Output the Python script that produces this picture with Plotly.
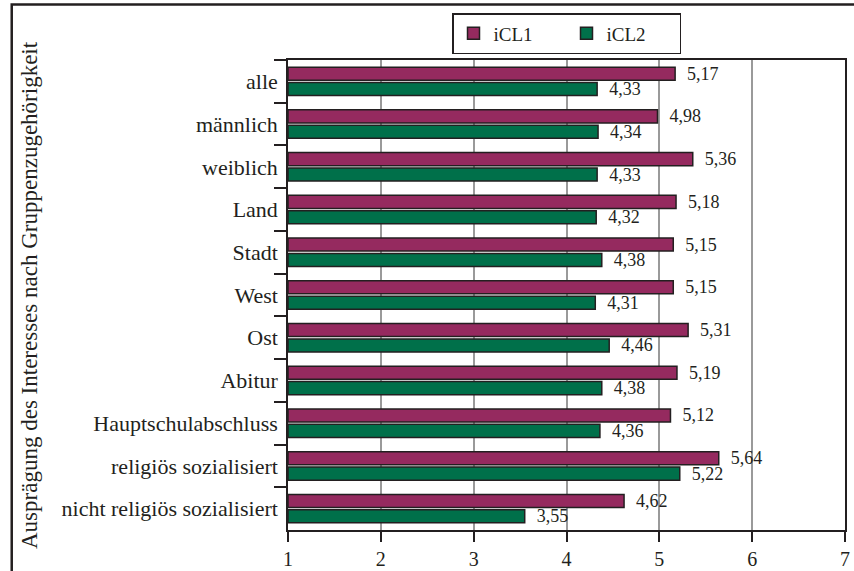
import plotly.graph_objects as go

gruppen = ["alle", "männlich", "weiblich", "Land", "Stadt", "West", "Ost", "Abitur",
           "Hauptschulabschluss", "religiös sozialisiert", "nicht religiös sozialisiert"]
icl1 = [5.17, 4.98, 5.36, 5.18, 5.15, 5.15, 5.31, 5.19, 5.12, 5.64, 4.62]
icl2 = [4.33, 4.34, 4.33, 4.32, 4.38, 4.31, 4.46, 4.38, 4.36, 5.22, 3.55]
x_ticks = [1, 2, 3, 4, 5, 6, 7]

serif = "Liberation Serif, DejaVu Serif, serif"
rand = "#231F20"

fig = go.Figure()
for name, vals, col in [("iCL1", icl1, "#952A5F"), ("iCL2", icl2, "#00704A")]:
    fig.add_trace(go.Bar(
        y=gruppen, x=[v - 1 for v in vals], base=1, orientation="h", name=name,
        marker=dict(color=col, line=dict(color=rand, width=1.5)),
        text=["  " + f"{v:.2f}".replace(".", ",") for v in vals],
        textposition="outside", cliponaxis=False, constraintext="none",
        textfont=dict(family=serif, size=18, color="#231F20"),
    ))

fig.update_layout(
    width=854, height=571,
    margin=dict(l=288, r=9, t=60, b=41),
    paper_bgcolor="white", plot_bgcolor="white",
    barmode="group", bargap=0.28, bargroupgap=0.15,
    font=dict(family=serif, size=21, color="#231F20"),
    legend=dict(orientation="h", x=0.5, xanchor="center", y=1.1, yanchor="top",
                bordercolor=rand, borderwidth=1.5, font=dict(size=19),
                entrywidth=68, entrywidthmode="pixels"),
    showlegend=True,
    xaxis=dict(range=[1, 7], tickvals=x_ticks, showgrid=True, gridcolor="#9A9A9A",
               gridwidth=1.5, showline=True, linecolor=rand, linewidth=1.5, mirror=True,
               ticks="outside", ticklen=10, tickwidth=1.5, tickcolor=rand,
               zeroline=False, tickfont=dict(size=20), automargin=False),
    yaxis=dict(autorange="reversed", showline=True, linecolor=rand, linewidth=1.5,
               mirror=True, ticks="outside", tickson="boundaries", ticklen=12,
               tickwidth=1.5, tickcolor=rand, tickfont=dict(size=22),
               ticklabelstandoff=4, automargin=False),
    shapes=[dict(type="rect", xref="paper", yref="paper", x0=-0.496, x1=1.1, y0=-0.2,
                 y1=1.118, line=dict(color=rand, width=2.5))],
    annotations=[dict(text="Ausprägung des Interesses nach Gruppenzugehörigkeit",
                      xref="paper", yref="paper", x=-0.465, y=0.5, textangle=-90,
                      showarrow=False, font=dict(size=23), xanchor="center",
                      yanchor="middle")],
)

fig.write_html("out.html", post_script="document.body.style.margin='0';",
               config={"displayModeBar": False})
